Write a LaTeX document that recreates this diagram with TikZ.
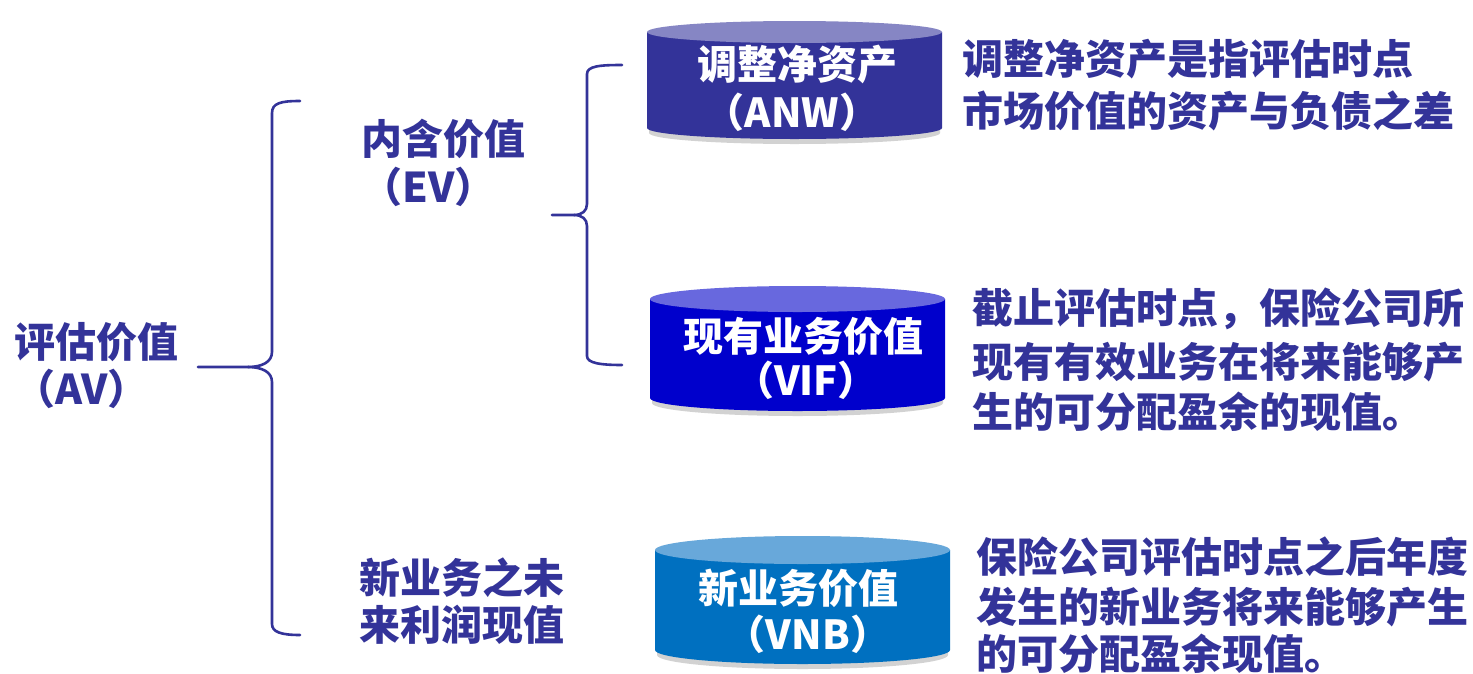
\documentclass[tikz,border=0pt]{standalone}
\usepackage{fontspec}
\setmainfont{Noto Sans CJK SC}
\usetikzlibrary{calc}
\definecolor{ink}{HTML}{333399}
\definecolor{cAbody}{HTML}{333399}
\definecolor{cAtop}{HTML}{8686C4}
\definecolor{cBbody}{HTML}{0000CC}
\definecolor{cBtop}{HTML}{6868DE}
\definecolor{cCbody}{HTML}{0070C0}
\definecolor{cCtop}{HTML}{68A8DA}
\tikzset{
  lbl/.style={anchor=west, inner sep=0pt, text=ink, font=\fontsize{41}{48}\selectfont\bfseries},
  cyltext/.style={anchor=center, inner sep=0pt, text=white, font=\fontsize{40}{48}\selectfont\bfseries},
  bracepath/.style={draw=ink, line width=2.6pt, line cap=round, line join=round}
}
% cylinder: #1 x1, #2 x2, #3 top centre y, #4 ry, #5 bottom centre y, #6 body, #7 top
\newcommand{\mycyl}[7]{%
  \fill[gray, opacity=0.35] (#1+2,#3) -- (#1+2,#5+5) arc[start angle=180, end angle=0, x radius={(#2-#1)/2-2}, y radius=#4] -- (#2-2,#3) -- cycle;
  \fill[#6] (#1,#3) -- (#1,#5) arc[start angle=180, end angle=0, x radius={(#2-#1)/2}, y radius=#4] -- (#2,#3) -- cycle;
  \fill[#7] ({(#1+#2)/2},#3) ellipse[x radius={(#2-#1)/2}, y radius=#4];
}
\begin{document}
\begin{tikzpicture}[x=1pt, y=-1pt]
\useasboundingbox[fill=white] (0,0) rectangle (1473,673);

% cylinders
\mycyl{647}{942}{32}{11}{128}{cAbody}{cAtop}
\mycyl{650}{945}{299}{13}{398}{cBbody}{cBtop}
\mycyl{655}{950}{550}{14}{650}{cCbody}{cCtop}

\node[cyltext] (anw1) at (797,64) {调整净资产};
\node[cyltext] (anw2) at (792,112) {（ANW）};
\node[cyltext] (vif1) at (803,336) {现有业务价值};
\node[cyltext] (vif2) at (806,380) {（VIF）};
\node[cyltext] (vnb1) at (798,588) {新业务价值};
\node[cyltext] (vnb2) at (808,634) {（VNB）};

% left labels
\node[lbl] (av1) at (14,342) {评估价值};
\node[lbl] (av2) at (14,389) {（AV）};
\node[lbl] (ev1) at (361,139) {内含价值};
\node[lbl] (ev2) at (361,187) {（EV）};
\node[lbl] (nb1) at (359,578) {新业务之未};
\node[lbl] (nb2) at (359,625) {来利润现值};

% right descriptions
\node[lbl] (d11) at (962,59) {调整净资产是指评估时点};
\node[lbl] (d12) at (962,111) {市场价值的资产与负债之差};
\node[lbl] (d21) at (972,309) {截止评估时点，保险公司所};
\node[lbl] (d22) at (972,362) {现有有效业务在将来能够产};
\node[lbl] (d23) at (972,412) {生的可分配盈余的现值。};
\node[lbl] (d31) at (976,557) {保险公司评估时点之后年度};
\node[lbl] (d32) at (976,607) {发生的新业务将来能够产生};
\node[lbl] (d33) at (976,654) {的可分配盈余现值。};

% braces
\coordinate (b1top) at (300,101);
\coordinate (b1tip) at (198,367);
\coordinate (b1bot) at (300,635);
\draw[bracepath] (b1top) .. controls (281,101) and (272,103) .. (272,113) -- (272,352)
  .. controls (272,362) and (262,367) .. (248,367) -- (b1tip);
\draw[bracepath] (248,367) .. controls (262,367) and (272,372) .. (272,382) -- (272,624)
  .. controls (272,632) and (281,635) .. (b1bot);

\coordinate (b2top) at (622,65);
\coordinate (b2tip) at (552,215);
\coordinate (b2bot) at (622,365);
\draw[bracepath] (b2top) .. controls (600,65) and (587,66) .. (587,74) -- (587,204)
  .. controls (587,211) and (582,215) .. (574,215) -- (b2tip);
\draw[bracepath] (574,215) .. controls (582,215) and (587,219) .. (587,226) -- (587,356)
  .. controls (587,363) and (600,365) .. (b2bot);
\end{tikzpicture}
\end{document}
